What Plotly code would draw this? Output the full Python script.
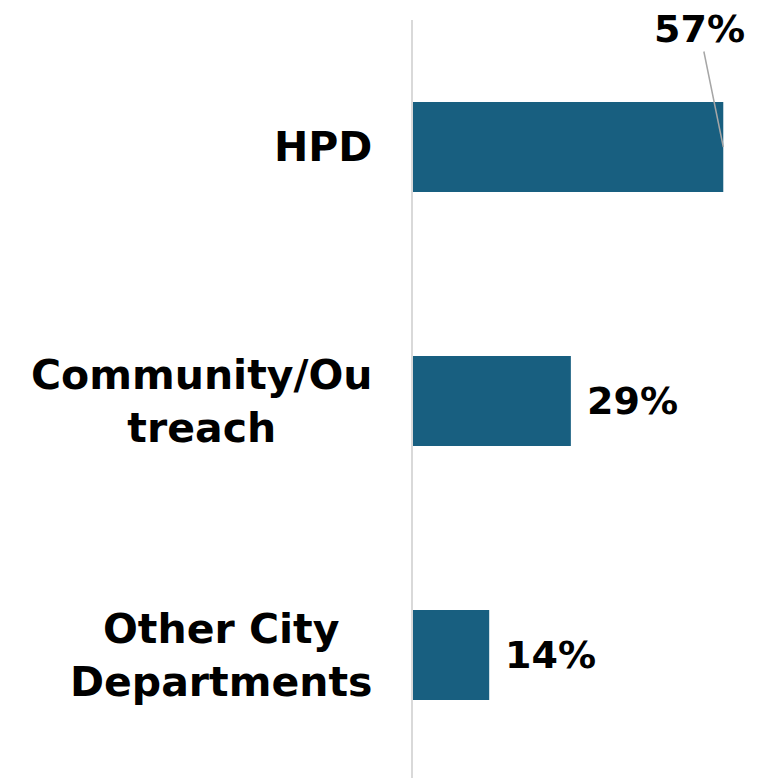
import plotly.graph_objects as go

categories = ["HPD", "Community/Ou<br>treach", "Other City<br>Departments"]
values = [57, 29, 14]
value_labels = ["57%", "29%", "14%"]

BAR_COLOR = "#185f80"
FONT = "DejaVu Sans"
LABEL_SIZE = 41
VALUE_SIZE = 38

fig = go.Figure()
fig.add_trace(go.Bar(
    y=list(range(len(categories))),
    x=values,
    orientation="h",
    marker=dict(color=BAR_COLOR, line=dict(width=0)),
    width=0.354,
    hoverinfo="skip",
))

annotations = []
for i, cat in enumerate(categories):
    annotations.append(dict(
        x=0, y=i, xref="x", yref="y", text=cat, showarrow=False,
        xanchor="right", yanchor="middle", align="center", xshift=-39,
        font=dict(family=FONT, size=LABEL_SIZE, color="#000000", weight="bold"),
    ))

# 57% label with leader line
annotations.append(dict(
    x=values[0], y=0, xref="x", yref="y", text=value_labels[0],
    showarrow=True, arrowhead=0, arrowwidth=1.5, arrowcolor="#a6a6a6",
    ax=-24, ay=-118, standoff=0, startstandoff=0, borderpad=0,
    font=dict(family=FONT, size=VALUE_SIZE, color="#000000", weight="bold"),
))
for i in range(1, len(values)):
    annotations.append(dict(
        x=values[i], y=i, xref="x", yref="y", text=value_labels[i],
        showarrow=False, xanchor="left", yanchor="middle", xshift=14,
        font=dict(family=FONT, size=VALUE_SIZE, color="#000000", weight="bold"),
    ))

fig.update_layout(
    width=761, height=770,
    margin=dict(l=405, r=0, t=12, b=0),
    paper_bgcolor="white", plot_bgcolor="white",
    showlegend=False,
    annotations=annotations,
    xaxis=dict(range=[0, 65.4], visible=False, fixedrange=True),
    yaxis=dict(range=[2.484, -0.5], showticklabels=False, showgrid=False,
               zeroline=False, showline=True, linecolor="#d9d9d9", linewidth=2,
               ticks="", fixedrange=True),
)

fig.write_html("out.html", config={"displayModeBar": False})
